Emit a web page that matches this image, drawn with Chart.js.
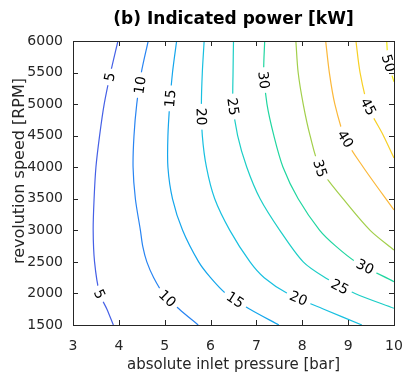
<!DOCTYPE html>
<html>
<head>
<meta charset="utf-8">
<script src="https://cdn.jsdelivr.net/npm/chart.js@4/dist/chart.umd.min.js"></script>
<style>
  html, body { margin: 0; padding: 0; background: #fff; }
  #wrap { width: 404px; height: 374px; }
</style>
</head>
<body>
<div id="wrap"><canvas id="myChart" width="404" height="374"></canvas></div>
<script>
// contour levels and their traced lines (x = pressure [bar], y = speed [RPM])
const levels = [5, 10, 15, 20, 25, 30, 35, 40, 45, 50]

const xTicks = [3, 4, 5, 6, 7, 8, 9, 10]
const yTicks = [1500, 2000, 2500, 3000, 3500, 4000, 4500, 5000, 5500, 6000]

const line5 = [[3.98, 6000], [3.82, 5500], [3.68, 5000], [3.58, 4500], [3.50, 4000], [3.46, 3500], [3.44, 3000], [3.47, 2500], [3.58, 2000], [3.74, 1750], [3.88, 1500]]
const line10 = [[4.64, 6000], [4.49, 5500], [4.39, 5000], [4.33, 4500], [4.31, 4000], [4.36, 3500], [4.47, 3000], [4.52, 2750], [4.61, 2500], [4.76, 2250], [4.97, 2000], [5.32, 1750], [5.73, 1500]]
const line15 = [[5.26, 6000], [5.17, 5500], [5.11, 5000], [5.07, 4500], [5.07, 4000], [5.17, 3500], [5.39, 3000], [5.74, 2500], [6.00, 2250], [6.33, 2000], [6.86, 1750], [7.49, 1500]]
const line20 = [[5.86, 6000], [5.82, 5500], [5.80, 5000], [5.82, 4500], [5.91, 4000], [6.09, 3500], [6.42, 3000], [6.86, 2500], [7.17, 2250], [7.68, 2000], [8.47, 1750], [9.30, 1500]]
const line25 = [[6.50, 6000], [6.49, 5500], [6.49, 5000], [6.59, 4500], [6.79, 4000], [7.08, 3500], [7.51, 3000], [8.02, 2500], [8.50, 2250], [9.15, 2000], [10.0, 1765]]
const line30 = [[7.18, 6000], [7.16, 5500], [7.23, 5000], [7.38, 4500], [7.58, 4000], [7.91, 3500], [8.38, 3000], [8.73, 2750], [9.17, 2500], [10.0, 2186]]
const line35 = [[7.86, 6000], [7.91, 5500], [8.02, 5000], [8.17, 4500], [8.39, 3983], [8.89, 3500], [9.48, 3000], [10.0, 2688]]
const line40 = [[8.51, 6000], [8.59, 5500], [8.71, 5000], [8.94, 4447], [9.33, 4000], [10.0, 3322]]
const line45 = [[9.17, 6000], [9.26, 5500], [9.44, 4959], [9.77, 4500], [10.0, 4146]]
const line50 = [[9.84, 6000], [9.88, 5647], [10.0, 5355]]

const contourLines = [line5, line10, line15, line20, line25, line30, line35, line40, line45, line50]

// where the level numbers sit on each line
const labelSpots = [
  [[3.80, 5430], [3.58, 1990]],
  [[4.46, 5300], [5.06, 1920]],
  [[5.12, 5090], [6.54, 1900]],
  [[5.80, 4800], [7.92, 1923]],
  [[6.49, 4960], [8.82, 2107]],
  [[7.16, 5380], [9.37, 2424]],
  [[8.39, 3983]],
  [[8.94, 4447]],
  [[9.44, 4959]],
  [[9.88, 5647]]
]

const lineColors = ['#4560e6', '#2884f2', '#14a6ec', '#18c0e0', '#1ccec6', '#20d6a0', '#a2cf4a', '#fbb83a', '#f7d024', '#f3ea14']

const axisColor = '#262626'
const fontFamily = '"DejaVu Sans", sans-serif'

const toPoints = (arr) => arr.map(p => ({ x: p[0], y: p[1] }))

// ticks pointing inwards on all four sides, box, titles and contour labels
const decorations = {
  id: 'decorations',
  afterDatasetsDraw(chart) {
    const ctx = chart.ctx
    const area = chart.chartArea
    ctx.save()
    ctx.beginPath()
    ctx.rect(area.left, area.top, area.right - area.left, area.bottom - area.top)
    ctx.clip()
    ctx.font = '14px ' + fontFamily
    ctx.textAlign = 'center'
    ctx.textBaseline = 'middle'
    labelSpots.forEach((spots, i) => {
      const pts = chart.getDatasetMeta(i).data
      spots.forEach(spot => {
        const px = chart.scales.x.getPixelForValue(spot[0])
        const py = chart.scales.y.getPixelForValue(spot[1])
        // direction of the nearest segment
        let best = Infinity
        let angle = 0
        for (let k = 0; k < pts.length - 1; k++) {
          const mx = (pts[k].x + pts[k + 1].x) / 2
          const my = (pts[k].y + pts[k + 1].y) / 2
          const d = (mx - px) ** 2 + (my - py) ** 2
          if (d < best) {
            best = d
            angle = Math.atan2(pts[k + 1].y - pts[k].y, pts[k + 1].x - pts[k].x)
          }
        }
        if (angle > Math.PI / 2) angle -= Math.PI
        if (angle < -Math.PI / 2) angle += Math.PI
        const text = String(levels[i])
        const w = ctx.measureText(text).width
        ctx.save()
        ctx.translate(px, py)
        ctx.rotate(angle)
        ctx.fillStyle = '#ffffff'
        ctx.fillRect(-w / 2 - 4, -6, w + 8, 12)
        ctx.fillStyle = '#000000'
        ctx.fillText(text, 0, 1)
        ctx.restore()
      })
    })
    ctx.restore()
  },
  afterDraw(chart) {
    const ctx = chart.ctx
    const area = chart.chartArea
    const xs = chart.scales.x
    const ys = chart.scales.y
    const len = 5
    ctx.save()
    ctx.strokeStyle = axisColor
    ctx.lineWidth = 1
    ctx.beginPath()
    xTicks.forEach(v => {
      const p = Math.round(xs.getPixelForValue(v)) + 0.5
      ctx.moveTo(p, area.bottom)
      ctx.lineTo(p, area.bottom - len)
      ctx.moveTo(p, area.top)
      ctx.lineTo(p, area.top + len)
    })
    yTicks.forEach(v => {
      const p = Math.round(ys.getPixelForValue(v)) + 0.5
      ctx.moveTo(area.left, p)
      ctx.lineTo(area.left + len, p)
      ctx.moveTo(area.right, p)
      ctx.lineTo(area.right - len, p)
    })
    ctx.stroke()
    ctx.strokeRect(Math.round(area.left) + 0.5, Math.round(area.top) + 0.5,
      Math.round(area.right - area.left), Math.round(area.bottom - area.top))

    ctx.fillStyle = '#000000'
    ctx.font = 'bold 17px ' + fontFamily
    ctx.textAlign = 'center'
    ctx.textBaseline = 'middle'
    ctx.fillText('(b) Indicated power [kW]', (area.left + area.right) / 2, 20)

    ctx.fillStyle = axisColor
    ctx.font = '16px ' + fontFamily
    ctx.translate(20, 171)
    ctx.rotate(-Math.PI / 2)
    ctx.fillText('revolution speed [RPM]', 0, 0)
    ctx.restore()
  }
}

const ctx = document.querySelector('#myChart')

const myChart = new Chart(ctx, {
  type: 'scatter',
  data: {
    datasets: contourLines.map((line, i) => ({
      label: String(levels[i]),
      data: toPoints(line),
      showLine: true,
      borderColor: lineColors[i],
      borderWidth: 1.2,
      pointRadius: 0,
      tension: 0.3
    }))
  },
  options: {
    responsive: false,
    animation: false,
    layout: { padding: { top: 41, right: 10, left: 0, bottom: 0 } },
    plugins: {
      legend: { display: false },
      tooltip: { enabled: false }
    },
    scales: {
      x: {
        type: 'linear',
        min: 3,
        max: 10,
        afterFit: (scale) => {
          scale.height = 49
          scale.paddingLeft = 0
          scale.paddingRight = 0
        },
        afterBuildTicks: (scale) => { scale.ticks = xTicks.map(v => ({ value: v })) },
        grid: { display: false },
        border: { display: false },
        ticks: { color: axisColor, font: { family: fontFamily, size: 14 }, padding: 5, maxRotation: 0 },
        title: {
          display: true,
          text: 'absolute inlet pressure [bar]',
          color: axisColor,
          font: { family: fontFamily, size: 15 },
          padding: { top: 0, bottom: 0 }
        }
      },
      y: {
        type: 'linear',
        min: 1500,
        max: 6000,
        afterFit: (scale) => {
          scale.width = 73
          scale.paddingTop = 0
          scale.paddingBottom = 0
        },
        afterBuildTicks: (scale) => { scale.ticks = yTicks.map(v => ({ value: v })) },
        grid: { display: false },
        border: { display: false },
        ticks: {
          color: axisColor,
          font: { family: fontFamily, size: 14 },
          padding: 2,
          callback: (value) => String(value)
        },
        title: { display: false }
      }
    }
  },
  plugins: [decorations]
})
</script>
</body>
</html>
